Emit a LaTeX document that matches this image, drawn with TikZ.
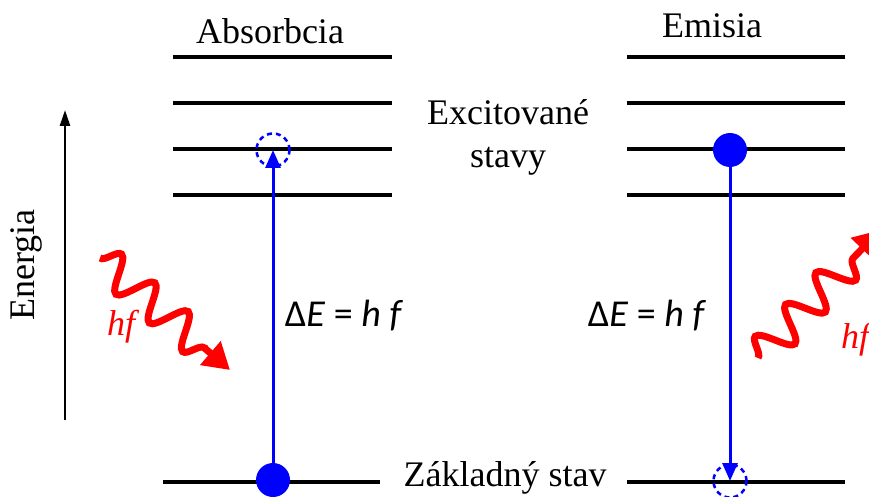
\documentclass[tikz,border=0pt]{standalone}
\usepackage{fontspec}
\setmainfont{Liberation Serif}
\newfontfamily\formfont{Carlito}
\usetikzlibrary{arrows.meta,decorations.pathmorphing}
\tikzset{
  level/.style={line width=3.2pt},
  atom/.style={circle,fill=blue,inner sep=0pt,minimum size=34pt},
  hole/.style={circle,draw=blue,dash pattern=on 5pt off 4pt,line width=2.5pt,inner sep=0pt,minimum size=33pt},
  jump/.style={blue,line width=3pt,-{Triangle[length=18pt,width=15pt]}},
  photon/.style={red,line width=7pt,decorate,
    decoration={snake,segment length=44pt,amplitude=17pt,post length=22pt},
    -{Triangle[length=26pt,width=30pt]}},
  lbl/.style={font=\fontsize{36}{40}\selectfont},
  form/.style={font=\formfont\fontsize{38}{42}\selectfont}
}
\begin{document}
\begin{tikzpicture}[x=1pt,y=-1pt,>=Stealth]
            \useasboundingbox (0,0) rectangle (869,497);
            \clip (0,0) rectangle (869,497);
            % energetic levels
            \foreach \y in {57,103,149,195} {
              \draw [level] (173,\y) -- (392,\y);
              \draw [level] (627,\y) -- (845,\y);
            }
            \draw [level] (163,482) -- (380,482);
            \draw [level] (627,482) -- (845,482);
            % texts
            \node [lbl] (tabs) at (270,31) {Absorbcia};
            \node [lbl] (temi) at (712,26) {Emisia};
            \node [lbl,align=center,font=\fontsize{36}{43}\selectfont] (exc) at (508,137) {Excitované\\stavy};
            \node [lbl] (zakl) at (505,478) {Základný stav};
            \node [lbl,rotate=90] (energ) at (26,265) {Energia};
            \coordinate (ea) at (65,420);
            \coordinate (eb) at (65,110);
            \draw [line width=2.5pt,-{Triangle[length=16pt,width=10pt]}] (ea) -- (eb);
            % absorption
            \node [hole] (a1) at (273,150) {};
            \node [atom] (a0) at (273,480) {};
            \draw [jump] (a0) -- (a1.center);
            \node [form] (dea) at (344,316) {Δ\textit{E} = \textit{h f}};
            % emission
            \node [hole] (b0) at (730,481) {};
            \node [atom] (b1) at (730,150) {};
            \draw [jump] (b1) -- (b0.center);
            \node [form] (deb) at (647,316) {Δ\textit{E} = \textit{h f}};
            % photons
            \coordinate (pa) at (100,258);
            \coordinate (pb) at (230,370);
            \draw [photon] (pa) -- (pb);
            \node [red,font=\itshape\fontsize{36}{40}\selectfont] (hfa) at (121,327) {hf};
            \coordinate (pc) at (758,358);
            \coordinate (pd) at (880,230);
            \draw [photon] (pc) -- (pd);
            \node [red,font=\itshape\fontsize{36}{40}\selectfont] (hfb) at (855,340) {hf};
        \end{tikzpicture}
\end{document}
